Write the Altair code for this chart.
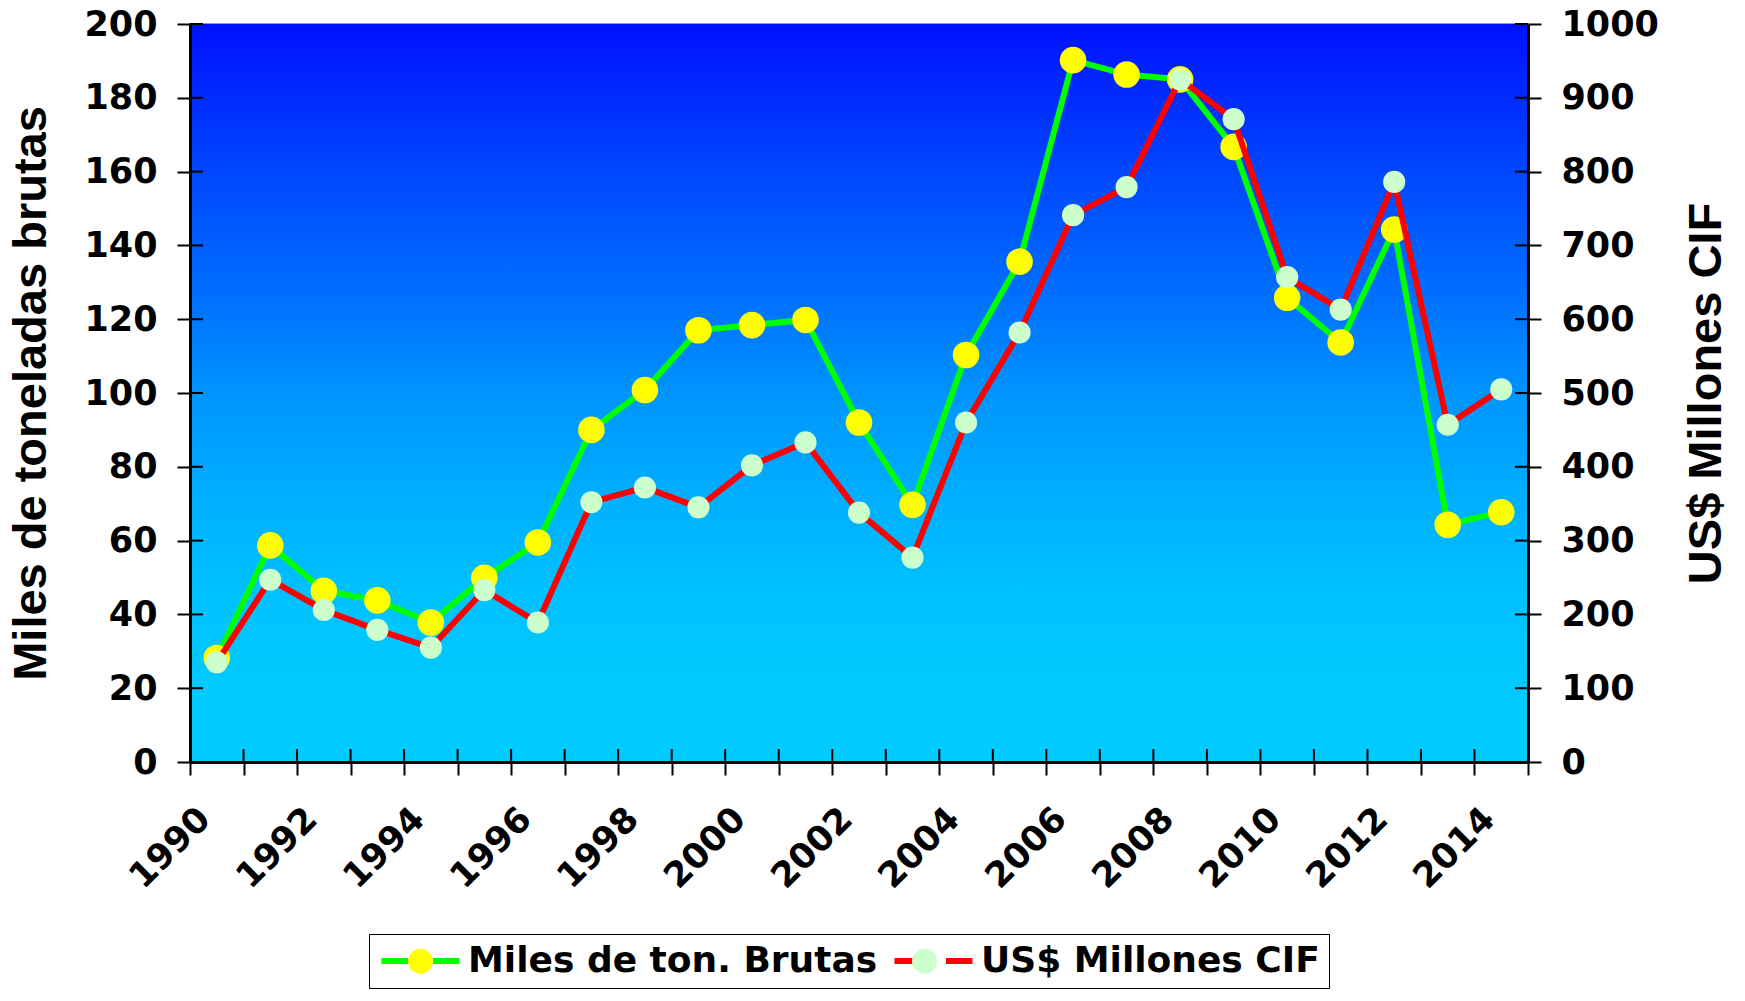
import altair as alt
import pandas as pd

# ---------------- data ----------------
years = list(range(1990, 2015))
miles_ton = [28.2, 58.7, 46.4, 43.8, 37.8, 49.9, 59.5, 90.0, 100.8, 117.0, 118.4, 119.8,
             92.0, 69.7, 110.3, 135.6, 190.2, 186.3, 185.0, 166.7, 125.8, 113.7, 144.3,
             64.3, 67.7]
usd_cif = [135, 247, 206, 179, 155, 233, 189, 352, 372, 345, 402, 433, 338, 277, 460,
           582, 741, 779, 925, 871, 657, 613, 786, 457, 505]
series_names = ["Miles de ton. Brutas", "US$ Millones CIF"]
left_ticks = [0, 20, 40, 60, 80, 100, 120, 140, 160, 180, 200]
right_ticks = [0, 100, 200, 300, 400, 500, 600, 700, 800, 900, 1000]
x_bounds = [y - 0.5 for y in years] + [years[-1] + 0.5]

# ---------------- layout ----------------
W, H = 1338, 738
TICK = 13
FONT_NUM = "DejaVu Sans"
FONT_TITLE = "Liberation Sans"

df_ton = pd.DataFrame({"year": years, "ton": miles_ton,
                       "s": series_names[0], "m": series_names[0]})
df_usd = pd.DataFrame({"year": years, "usd": usd_cif,
                       "s": series_names[1], "m": series_names[1]})


def xenc():
    return alt.X(
        "year:Q",
        scale=alt.Scale(domain=[x_bounds[0], x_bounds[-1]], nice=False, zero=False),
        axis=alt.Axis(
            values=x_bounds,
            labelExpr="((datum.value + 0.5) % 2 == 0 && datum.value < 2014) ? format(datum.value + 0.5, 'd') : ''",
            labelAngle=315, labelAlign="right", labelBaseline="middle",
            labelOffset=14, labelPadding=38, labelFlush=False, labelOverlap=False,
            labelBound=False, labelFont=FONT_NUM, labelFontWeight="bold",
            labelFontSize=35, labelColor="black",
            tickSize=TICK, tickWidth=2, tickColor="black",
            domainColor="black", domainWidth=3, grid=False, title=None, zindex=1,
        ),
    )


def yleft():
    return alt.Y(
        "ton:Q",
        scale=alt.Scale(domain=[0, 200], nice=False, zero=True),
        axis=alt.Axis(
            orient="left", values=left_ticks, format="d",
            title="Miles de toneladas brutas",
            titleFont=FONT_TITLE, titleFontSize=47, titleFontWeight="bold",
            titleColor="black", titlePadding=28,
            labelFont=FONT_NUM, labelFontWeight="bold", labelFontSize=35,
            labelColor="black", labelPadding=20, labelFlush=False,
            tickSize=TICK, tickWidth=2, tickColor="black",
            domainColor="black", domainWidth=3, grid=False, zindex=1,
        ),
    )


def yright():
    return alt.Y(
        "usd:Q",
        scale=alt.Scale(domain=[0, 1000], nice=False, zero=True),
        axis=alt.Axis(
            orient="right", values=right_ticks, format="d",
            title="US$ Millones CIF",
            titleFont=FONT_TITLE, titleFontSize=47, titleFontWeight="bold",
            titleColor="black", titlePadding=25, titleAngle=270, titleBaseline="top",
            labelFont=FONT_NUM, labelFontWeight="bold", labelFontSize=35,
            labelColor="black", labelPadding=20, labelFlush=False,
            tickSize=TICK, tickWidth=2, tickColor="black",
            domainColor="black", domainWidth=3, grid=False, zindex=1,
        ),
    )


# legend symbols in unit coordinates (scaled by sqrt(symbolSize)/2)
LINE_PATH = "M-0.967,0H0.8M2.466,0H4.233"
CIRCLE_PATH = ("M2.466,0C2.466,0.46,2.093,0.833,1.633,0.833"
               "C1.173,0.833,0.8,0.46,0.8,0"
               "C0.8,-0.46,1.173,-0.833,1.633,-0.833"
               "C2.093,-0.833,2.466,-0.46,2.466,0Z")

legend_common = dict(
    title=None, orient="none", legendX=179, legendY=910, direction="horizontal",
    columns=2, symbolSize=900, symbolStrokeWidth=6, labelFont=FONT_NUM,
    labelFontWeight="bold", labelFontSize=36, labelOffset=54, labelLimit=900,
    columnPadding=4, padding=9,
)
line_legend = alt.Legend(symbolType=LINE_PATH, labelColor="black",
                         strokeColor="black", **legend_common)
dot_legend = alt.Legend(symbolType=CIRCLE_PATH, labelColor="transparent",
                        symbolStrokeColor="transparent", **legend_common)

color_enc = alt.Color("s:N", scale=alt.Scale(domain=series_names, range=["#00FF00", "#FF0000"]),
                      legend=line_legend)
# data-derived domain (sorted: same order) so the two legends stay separate
fill_enc = alt.Fill("m:N", scale=alt.Scale(range=["#FFFF00", "#CCFFCC"]),
                    legend=dot_legend)

gradient = alt.Gradient(
    gradient="linear", x1=0, x2=0, y1=0, y2=1,
    stops=[
        alt.GradientStop(color="#0010FF", offset=0.0),
        alt.GradientStop(color="#0044FF", offset=0.19),
        alt.GradientStop(color="#0070FF", offset=0.37),
        alt.GradientStop(color="#0096FF", offset=0.51),
        alt.GradientStop(color="#00B0FF", offset=0.65),
        alt.GradientStop(color="#00C2FF", offset=0.78),
        alt.GradientStop(color="#00CAFF", offset=0.9),
        alt.GradientStop(color="#00CCFF", offset=1.0),
    ],
)

background = alt.Chart(alt.Data(values=[{}])).mark_rect(fill=gradient).encode(
    x=alt.value(0), x2=alt.value(W), y=alt.value(0), y2=alt.value(H)
)

left_inner = alt.Chart(pd.DataFrame({"ton": left_ticks})).mark_rule(
    color="black", strokeWidth=2).encode(y=yleft(), x=alt.value(0), x2=alt.value(TICK))
bottom_inner = alt.Chart(pd.DataFrame({"year": x_bounds})).mark_rule(
    color="black", strokeWidth=2).encode(x=xenc(), y=alt.value(H - TICK), y2=alt.value(H))
right_inner = alt.Chart(pd.DataFrame({"usd": right_ticks})).mark_rule(
    color="black", strokeWidth=2).encode(y=yright(), x=alt.value(W - TICK), x2=alt.value(W))

ton_line = alt.Chart(df_ton).mark_line(strokeWidth=6).encode(x=xenc(), y=yleft(), color=color_enc)
ton_pts = alt.Chart(df_ton).mark_point(shape="circle", filled=True, size=707, opacity=1,
                                       strokeWidth=0).encode(x=xenc(), y=yleft(), fill=fill_enc)
usd_line = alt.Chart(df_usd).mark_line(strokeWidth=6).encode(x=xenc(), y=yright(), color=color_enc)
usd_pts = alt.Chart(df_usd).mark_point(shape="circle", filled=True, size=491, opacity=1,
                                       strokeWidth=0).encode(x=xenc(), y=yright(), fill=fill_enc)

left = alt.layer(background, left_inner, bottom_inner, ton_line, ton_pts)
right = alt.layer(usd_line, usd_pts, right_inner)

chart = (
    alt.layer(left, right)
    .resolve_scale(y="independent")
    .properties(
        width=W, height=H,
        autosize=alt.AutoSizeParams(type="none"),
        padding={"left": 182, "top": 16, "right": 200, "bottom": 228},
    )
    .configure_view(stroke="#999999", strokeWidth=2)
)

chart.save("out.html", embed_options={"renderer": "svg", "actions": False})
